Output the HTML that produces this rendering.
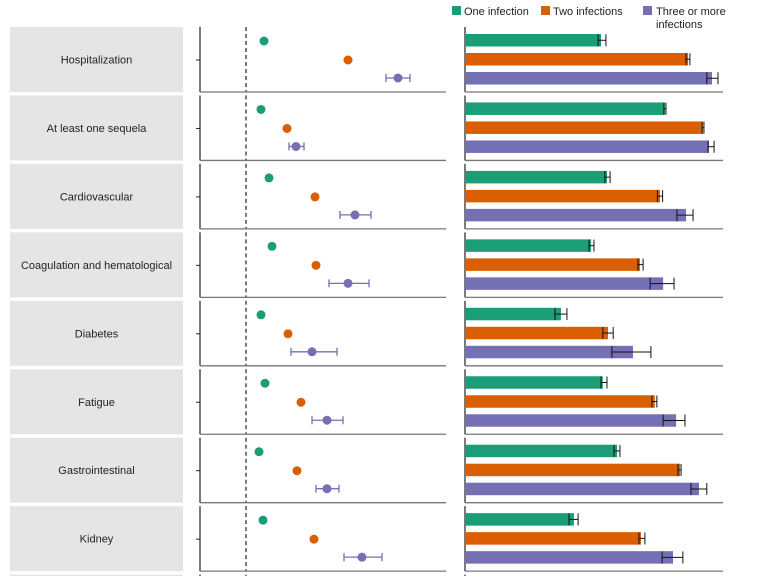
<!DOCTYPE html>
<html><head><meta charset="utf-8"><style>
html,body{margin:0;padding:0;background:#fff;width:760px;height:576px;overflow:hidden;font-family:"Liberation Sans",sans-serif}
svg{display:block}
</style></head><body>
<svg id="chart" width="760" height="576" viewBox="0 0 760 576" style="overflow:hidden" xmlns="http://www.w3.org/2000/svg" font-family="Liberation Sans, sans-serif">
<g font-size="11" fill="#222">
<rect x="452" y="6" width="9" height="9" fill="#1b9e77"/>
<text x="464" y="15">One infection</text>
<rect x="541" y="6" width="9" height="9" fill="#d95f02"/>
<text x="553" y="15">Two infections</text>
<rect x="643" y="6" width="9" height="9" fill="#7570b3"/>
<text x="656" y="15">Three or more</text>
<text x="656" y="28">infections</text>
</g>
<g id="rows"></g>
</svg>
<script>
const categories=["Hospitalization","At least one sequela","Cardiovascular","Coagulation and hematological","Diabetes","Fatigue","Gastrointestinal","Kidney"];
// Hazard-ratio-like dot values (dashed reference line at 1)
const dotOne=[1.18,1.15,1.23,1.26,1.15,1.19,1.13,1.17];
const dotTwo=[2.02,1.41,1.69,1.70,1.42,1.55,1.51,1.68];
const dotThree=[2.52,1.50,2.09,2.02,1.66,1.81,1.81,2.16];
const dotThreeLo=[2.40,1.43,1.94,1.83,1.45,1.66,1.70,1.98];
const dotThreeHi=[2.64,1.58,2.25,2.23,1.91,1.97,1.93,2.36];
// Bar values (burden units)
const barOne=[52.3,76.9,54.6,48.5,36.9,53.0,58.5,41.9];
const barOneLo=[51.2,76.5,53.8,47.7,34.6,52.3,57.3,40.0];
const barOneHi=[54.2,77.3,55.8,49.6,39.2,54.6,59.6,43.5];
const barTwo=[85.8,91.5,75.0,67.3,55.0,73.0,82.7,67.7];
const barTwoLo=[85.0,91.2,74.0,66.5,53.0,71.9,81.9,66.9];
const barTwoHi=[86.5,91.9,76.0,68.5,57.0,73.8,83.1,69.2];
const barThree=[95.0,93.8,85.0,76.2,64.6,81.2,90.0,80.0];
const barThreeLo=[93.0,93.5,81.5,71.2,56.5,76.2,86.9,75.8];
const barThreeHi=[97.3,95.8,87.7,80.4,71.5,84.6,93.0,83.8];

const NS="http://www.w3.org/2000/svg";
const dx=v=>246+(v-1)*100;
const bx=v=>465+v*2.6;
const C=["#1b9e77","#d95f02","#7570b3"];
const g=document.getElementById("rows");
function mk(tag,attrs,parent){const e=document.createElementNS(NS,tag);for(const k in attrs)e.setAttribute(k,attrs[k]);(parent||g).appendChild(e);return e;}
const pitch=68.45;
for(let i=0;i<=categories.length;i++){
  const top=27+i*pitch, bot=top+65;
  const grp=mk("g",{});
  
  
  const lp=mk("rect",{x:10,y:top,width:173,height:Math.min(65,576-top),fill:"#e5e5e5"},grp);
  
  
  mk("line",{x1:200,y1:top,x2:200,y2:Math.min(bot,576),stroke:"#222","stroke-width":1.2},grp);
  mk("line",{x1:246,y1:top,x2:246,y2:Math.min(bot,576),stroke:"#222","stroke-width":1.2,"stroke-dasharray":"4,3"},grp);
  mk("line",{x1:465,y1:top,x2:465,y2:Math.min(bot,576),stroke:"#222","stroke-width":1.2},grp);
  if(i>=categories.length) continue;
  const t=mk("text",{x:96.5,y:top+36.5,"text-anchor":"middle","font-size":"11",fill:"#222"},grp);
  t.textContent=categories[i];
  
  
  mk("line",{x1:196,y1:top+33,x2:200,y2:top+33,stroke:"#222"},grp);
  mk("line",{x1:200,y1:bot,x2:446,y2:bot,stroke:"#777","stroke-width":1.3},grp);
  mk("line",{x1:465,y1:bot,x2:723,y2:bot,stroke:"#777","stroke-width":1.3},grp);
  const ys=[top+14,top+33,top+51];
  mk("line",{x1:dx(dotThreeLo[i]),y1:ys[2],x2:dx(dotThreeHi[i]),y2:ys[2],stroke:C[2],"stroke-width":1.3},grp);
  mk("line",{x1:dx(dotThreeLo[i]),y1:ys[2]-4,x2:dx(dotThreeLo[i]),y2:ys[2]+4,stroke:C[2],"stroke-width":1.3},grp);
  mk("line",{x1:dx(dotThreeHi[i]),y1:ys[2]-4,x2:dx(dotThreeHi[i]),y2:ys[2]+4,stroke:C[2],"stroke-width":1.3},grp);
  [dotOne,dotTwo,dotThree].forEach((arr,k)=>{
    const c=mk("circle",{cx:dx(arr[i]),cy:ys[k],r:4.5,fill:C[k]},grp);
    
    
  });
  const bys=[top+7,top+26,top+45];
  const vals=[[barOne,barOneLo,barOneHi],[barTwo,barTwoLo,barTwoHi],[barThree,barThreeLo,barThreeHi]];
  vals.forEach((s,k)=>{
    const r=mk("rect",{x:465,y:bys[k],width:bx(s[0][i])-465,height:12.5,fill:C[k]},grp);
    
    
    const yc=bys[k]+6.25, lo=bx(s[1][i]), hi=bx(s[2][i]);
    mk("line",{x1:lo,y1:yc,x2:hi,y2:yc,stroke:"#111","stroke-width":1},grp);
    mk("line",{x1:lo,y1:yc-6,x2:lo,y2:yc+6,stroke:"#111","stroke-width":1},grp);
    mk("line",{x1:hi,y1:yc-6,x2:hi,y2:yc+6,stroke:"#111","stroke-width":1},grp);
  });
}
</script>
</body></html>
